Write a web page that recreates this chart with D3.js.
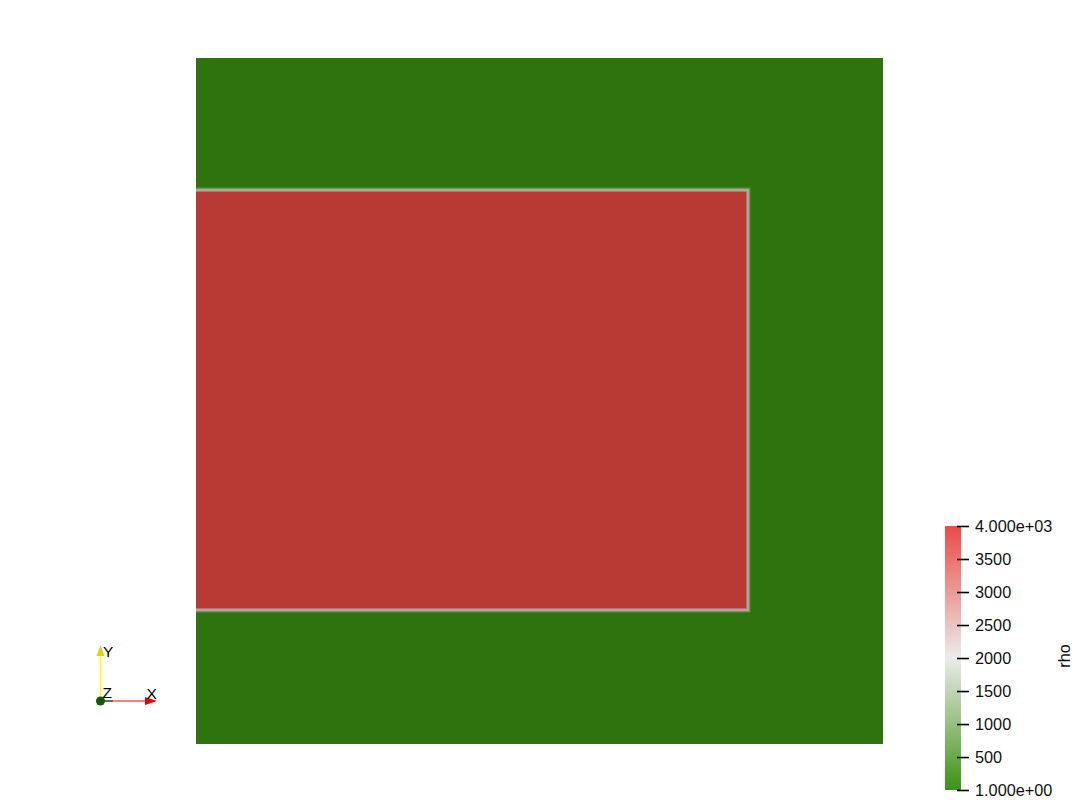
<!DOCTYPE html>
<html>
<head>
<meta charset="utf-8">
<script src="https://cdn.jsdelivr.net/npm/d3@7"></script>
<style>
  html, body { margin: 0; padding: 0; background: #ffffff; }
  svg { display: block; }
  text { font-family: "Liberation Sans", Arial, sans-serif; }
</style>
</head>
<body>
<svg id="chart" width="1079" height="802"></svg>
<script>
// ---- data ----
const fieldName = "rho";
const rhoRange = [1, 4000];             // colour map range
const rhoBackground = 1;                 // ambient fluid
const rhoBlock = 4000;                   // dense block
const domainX = [0, 1];
const domainY = [0, 1];
const blockX = [0, 0.8035];
const blockY = [0.1953, 0.8076];
const edgeRho = [600, 1300, 2000, 2700, 3400];   // smeared interface values, outside -> inside
const tickValues = [1, 500, 1000, 1500, 2000, 2500, 3000, 3500, 4000];
const tickLabels = ["1.000e+00", "500", "1000", "1500", "2000", "2500", "3000", "3500", "4.000e+03"];
const colorStops = [1, 2000, 4000];
const colorRange = ["rgb(59,147,18)", "rgb(236,236,234)", "rgb(236,74,68)"];

// ---- scales ----
const svg = d3.select("#chart");
const W = 1079, H = 802;
svg.append("rect").attr("width", W).attr("height", H).attr("fill", "#ffffff");

const x = d3.scaleLinear().domain(domainX).range([196, 883]);
const y = d3.scaleLinear().domain(domainY).range([744, 58]);
const color = d3.scaleLinear().domain(colorStops).range(colorRange).interpolate(d3.interpolateRgb);
const shade = 0.785;
const shaded = v => {
  const c = d3.rgb(color(v));
  return d3.rgb(c.r * shade, c.g * shade, c.b * shade).toString();
};

// ---- field ----
const defs = svg.append("defs");
defs.append("clipPath").attr("id", "dom")
  .append("rect")
  .attr("x", x(domainX[0])).attr("y", y(domainY[1]))
  .attr("width", x(domainX[1]) - x(domainX[0]))
  .attr("height", y(domainY[0]) - y(domainY[1]));

const field = svg.append("g").attr("clip-path", "url(#dom)");
field.append("rect")
  .attr("x", x(domainX[0])).attr("y", y(domainY[1]))
  .attr("width", x(domainX[1]) - x(domainX[0]))
  .attr("height", y(domainY[0]) - y(domainY[1]))
  .attr("fill", shaded(rhoBackground));

// interface band: nested rectangles, each 1px further inside the block
const bx0 = x(blockX[0]) - 10, bx1 = x(blockX[1]);
const by0 = y(blockY[1]), by1 = y(blockY[0]);
const levels = edgeRho.map((v, i) => ({ v, e: (edgeRho.length - 1) / 2 - i }))
  .concat([{ v: rhoBlock, e: -(edgeRho.length) / 2 }]);
field.selectAll("rect.lvl").data(levels).join("rect")
  .attr("class", "lvl")
  .attr("x", bx0)
  .attr("y", d => by0 - d.e - 0.5)
  .attr("width", d => bx1 + d.e + 0.5 - bx0)
  .attr("height", d => (by1 + d.e + 0.5) - (by0 - d.e - 0.5))
  .attr("fill", d => shaded(d.v));

// ---- colour bar ----
const barX = 945, barW = 16;
const cy = d3.scaleLinear().domain(rhoRange).range([790, 526]);
const grad = defs.append("linearGradient").attr("id", "cbar")
  .attr("x1", 0).attr("y1", 1).attr("x2", 0).attr("y2", 0);
grad.selectAll("stop").data(d3.range(0, 1.0001, 0.05)).join("stop")
  .attr("offset", t => t)
  .attr("stop-color", t => color(rhoRange[0] + t * (rhoRange[1] - rhoRange[0])));
svg.append("rect")
  .attr("x", barX).attr("y", cy(rhoRange[1]))
  .attr("width", barW).attr("height", cy(rhoRange[0]) - cy(rhoRange[1]))
  .attr("fill", "url(#cbar)");

const axis = d3.axisRight(cy)
  .tickValues(tickValues)
  .tickFormat((d, i) => tickLabels[i])
  .tickSize(12)
  .tickPadding(6);
const ag = svg.append("g").attr("transform", `translate(957,0)`).call(axis);
ag.select(".domain").remove();
ag.selectAll(".tick line").attr("stroke", "#000").attr("stroke-width", 1.6);
ag.selectAll(".tick text")
  .attr("fill", "#111")
  .attr("font-size", 16.3)
  .attr("font-family", "'Liberation Sans', Arial, sans-serif");

svg.append("text")
  .attr("transform", `translate(1070,656) rotate(-90)`)
  .attr("text-anchor", "middle")
  .attr("font-size", 16.3)
  .attr("fill", "#111")
  .text(fieldName);

// ---- orientation triad ----
const tri = svg.append("g");
const ox = 100.5, oy = 701;
tri.append("line").attr("x1", ox).attr("y1", oy).attr("x2", ox).attr("y2", 654)
  .attr("stroke", "#ffff00").attr("stroke-width", 1.5);
tri.append("path").attr("d", `M${ox},645 L${ox + 4},656 L${ox - 4},656 Z`).attr("fill", "#d8d800");
tri.append("line").attr("x1", ox).attr("y1", oy).attr("x2", 113).attr("y2", oy)
  .attr("stroke", "#000").attr("stroke-width", 1.2);
tri.append("line").attr("x1", 113).attr("y1", oy).attr("x2", 146).attr("y2", oy)
  .attr("stroke", "#ff0000").attr("stroke-width", 1.2);
tri.append("path").attr("d", `M157,${oy} L145,${oy - 4} L145,${oy + 4} Z`).attr("fill", "#e00000");
tri.append("circle").attr("cx", ox).attr("cy", oy).attr("r", 4.5).attr("fill", "#0b5d0b");
const lab = [["Y", 103, 657], ["Z", 102.5, 698], ["X", 146.5, 699]];
tri.selectAll("text").data(lab).join("text")
  .attr("x", d => d[1]).attr("y", d => d[2])
  .attr("font-size", 15.5)
  .attr("fill", "#000")
  .attr("font-family", "'DejaVu Sans', sans-serif")
  .text(d => d[0]);
</script>
</body>
</html>
